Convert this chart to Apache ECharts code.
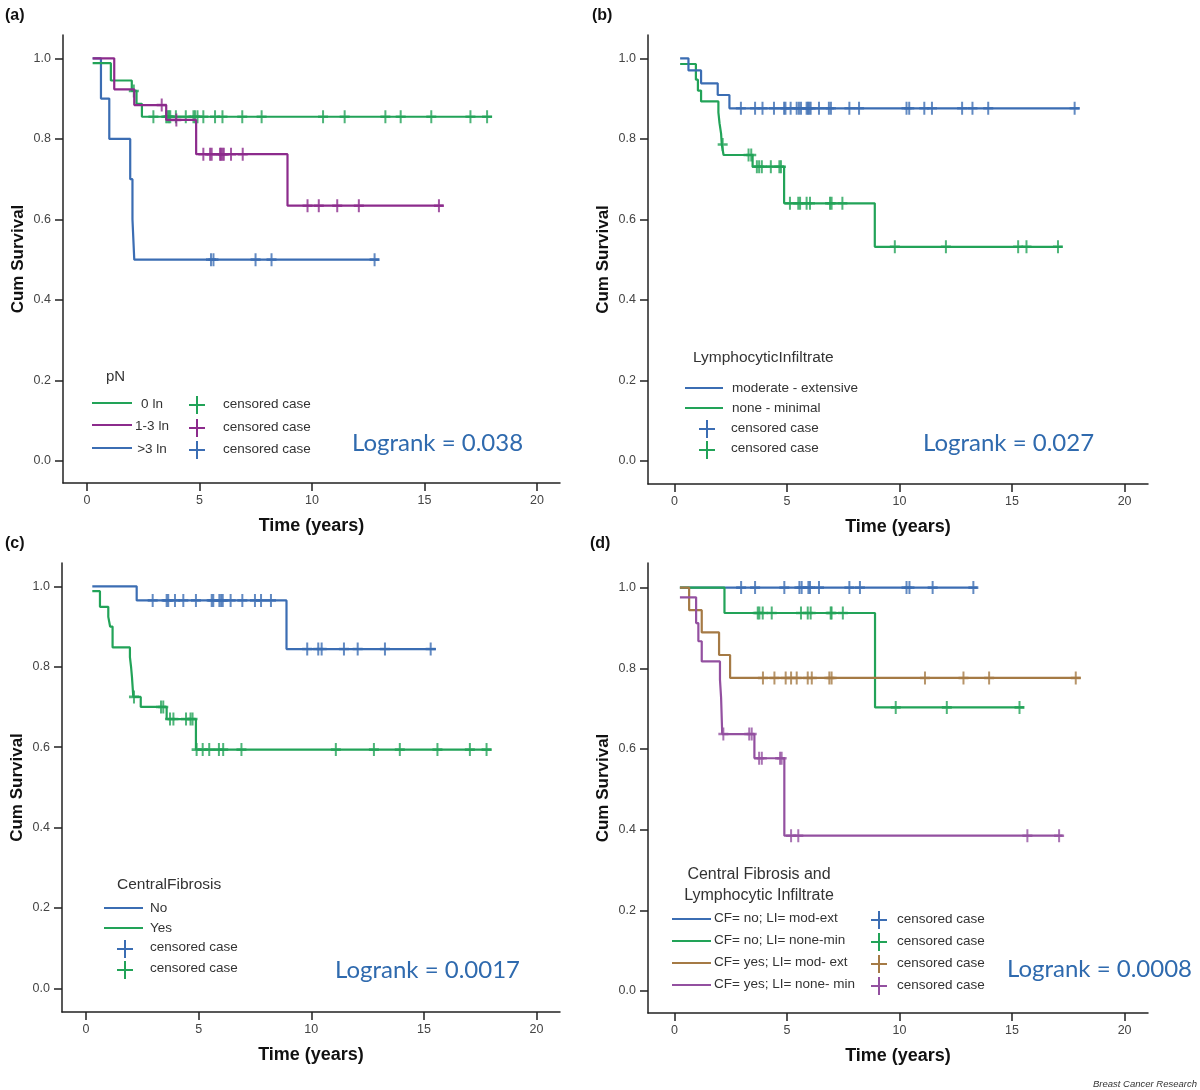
<!DOCTYPE html>
<html><head><meta charset="utf-8">
<script src="https://cdn.jsdelivr.net/npm/echarts@6/dist/echarts.min.js"></script>
<style>html,body{margin:0;padding:0;background:#fff}#c{width:1200px;height:1090px}</style>
</head><body><div id="c"></div>
<script>
// ================= DATA =================
const xTicks = [0, 5, 10, 15, 20];
const yTicks = [0, 0.2, 0.4, 0.6, 0.8, 1.0];

// (a) pN
const aTitle = 'pN';
const aNames = ['0 ln', '1-3 ln', '>3 ln'];
const aLogrank = 'Logrank = 0.038';
const a0T = [0.25, 1.06, 1.99, 2.20, 2.44, 18.0];
const a0S = [0.988, 0.945, 0.919, 0.887, 0.855, 0.855];
const a0C = [2.08, 2.95, 3.52, 3.58, 3.64, 3.70, 3.95, 4.39, 4.73, 4.80, 4.91, 5.17, 5.69, 6.02, 6.90, 7.76, 10.49, 11.45, 13.26, 13.94, 15.30, 17.04, 17.78];
const a1T = [0.25, 1.21, 2.10, 3.52, 4.85, 8.91, 15.84];
const a1S = [1.0, 0.923, 0.884, 0.847, 0.762, 0.634, 0.634];
const a1C = [3.32, 3.97, 5.17, 5.47, 5.54, 5.91, 5.96, 6.02, 6.08, 6.40, 6.92, 9.80, 10.30, 11.12, 12.08, 15.64];
const a2T = [0.25, 0.62, 0.99, 1.92, 2.02, 2.10, 12.98];
const a2S = [1.0, 0.9, 0.8, 0.7, 0.6, 0.5, 0.5];
const a2C = [5.51, 5.62, 7.49, 8.20, 12.78];

// (b) Lymphocytic infiltrate
const bTitle = 'LymphocyticInfiltrate';
const bNames = ['moderate - extensive', 'none - minimal'];
const bLogrank = 'Logrank = 0.027';
const b0T = [0.25, 0.62, 1.18, 1.92, 2.44, 18.0];
const b0S = [1.0, 0.970, 0.938, 0.909, 0.876, 0.876];
const b0C = [2.95, 3.58, 3.91, 4.42, 4.87, 4.93, 5.16, 5.43, 5.53, 5.62, 5.87, 5.93, 5.99, 6.05, 6.42, 6.86, 6.95, 7.77, 8.20, 10.31, 10.43, 11.10, 11.44, 12.78, 13.24, 13.94, 17.78];
const b1T = [0.25, 0.95, 1.04, 1.18, 1.95, 2.00, 2.07, 2.10, 2.18, 3.47, 4.87, 8.90, 17.23];
const b1S = [0.986, 0.947, 0.920, 0.893, 0.866, 0.839, 0.813, 0.786, 0.760, 0.731, 0.640, 0.532, 0.532];
const b1C = [2.14, 3.29, 3.41, 3.66, 3.76, 3.88, 4.28, 4.66, 4.73, 5.13, 5.50, 5.58, 5.87, 6.02, 6.91, 6.98, 7.46, 9.79, 12.06, 15.27, 15.64, 17.04];

// (c) Central fibrosis
const cTitle = 'CentralFibrosis';
const cNames = ['No', 'Yes'];
const cLogrank = 'Logrank = 0.0017';
const c0T = [0.28, 2.25, 8.90, 15.53];
const c0S = [1.0, 0.965, 0.844, 0.844];
const c0C = [2.96, 3.58, 3.65, 3.95, 4.32, 4.88, 5.58, 5.65, 5.92, 6.00, 6.07, 6.42, 6.94, 7.50, 7.77, 8.21, 9.82, 10.31, 10.46, 11.45, 12.06, 13.27, 15.30];
const c1T = [0.28, 0.62, 0.99, 1.07, 1.18, 1.95, 2.00, 2.04, 2.10, 2.43, 3.58, 4.88, 18.0];
const c1S = [0.988, 0.949, 0.924, 0.900, 0.848, 0.824, 0.800, 0.775, 0.725, 0.700, 0.670, 0.594, 0.594];
const c1C = [2.13, 3.33, 3.43, 3.73, 3.88, 4.44, 4.64, 4.73, 4.91, 5.18, 5.47, 5.90, 6.09, 6.90, 11.09, 12.78, 13.93, 15.60, 17.04, 17.78];

// (d) Central fibrosis and lymphocytic infiltrate
const dTitle = ['Central Fibrosis and', 'Lymphocytic Infiltrate'];
const dNames = ['CF= no; LI= mod-ext', 'CF= no; LI= none-min', 'CF= yes; LI= mod- ext', 'CF= yes; LI= none- min'];
const dLogrank = 'Logrank = 0.0008';
const d0T = [0.24, 13.46];
const d0S = [1.0, 1.0];
const d0C = [2.96, 3.58, 4.88, 5.55, 5.65, 5.95, 6.02, 6.42, 7.77, 8.24, 10.31, 10.44, 11.47, 13.28];
const d1T = [0.24, 2.22, 8.91, 15.53];
const d1S = [1.0, 0.937, 0.703, 0.703];
const d1C = [3.70, 3.77, 3.92, 4.32, 5.62, 5.92, 6.05, 6.94, 6.98, 7.48, 9.83, 12.10, 15.33];
const d2T = [0.24, 0.65, 1.21, 1.98, 2.47, 18.05];
const d2S = [1.0, 0.944, 0.889, 0.833, 0.776, 0.776];
const d2C = [3.93, 4.44, 4.94, 5.18, 5.43, 5.92, 6.10, 6.88, 6.98, 11.13, 12.84, 13.98, 17.83];
const d3T = [0.24, 0.96, 1.06, 1.21, 2.02, 2.07, 2.12, 3.55, 4.88, 17.25];
const d3S = [0.976, 0.912, 0.867, 0.817, 0.772, 0.727, 0.637, 0.577, 0.385, 0.385];
const d3C = [2.17, 3.32, 3.43, 3.76, 3.88, 4.69, 4.76, 5.18, 5.50, 15.68, 17.09];

// ================= STYLE =================
const GREEN = '#22a358', PURPLE = '#8c2b8c', BLUE = '#3b6db3', BROWN = '#a57a45', PURPLE2 = '#9350a0';
const LOGRANK_COLOR = '#2f6aae';
const FONT = 'Liberation Sans, Arial, sans-serif';
const PLUS = 'path://M4,0 H6 V4 H10 V6 H6 V10 H4 V6 H0 V4 H4 Z';

// grid boxes and axis ranges (layout)
const panels = [
  {grid: {left: 63, top: 35, width: 497, height: 448}, x: [-1.067, 21.02], y: [-0.0547, 1.058]},
  {grid: {left: 648, top: 35, width: 500, height: 449}, x: [-1.178, 21.04], y: [-0.057, 1.058]},
  {grid: {left: 62, top: 563, width: 498, height: 449}, x: [-1.065, 21.04], y: [-0.0585, 1.058]},
  {grid: {left: 648, top: 563, width: 500, height: 450}, x: [-1.178, 21.04], y: [-0.0545, 1.061]}
];

function valAt(T, S, t) { let v = S[0]; for (let i = 0; i < T.length; i++) if (T[i] <= t + 1e-9) v = S[i]; return v; }

const curves = [
  [0, a2T, a2S, a2C, BLUE], [0, a0T, a0S, a0C, GREEN], [0, a1T, a1S, a1C, PURPLE],
  [1, b1T, b1S, b1C, GREEN], [1, b0T, b0S, b0C, BLUE],
  [2, c0T, c0S, c0C, BLUE], [2, c1T, c1S, c1C, GREEN],
  [3, d0T, d0S, d0C, BLUE], [3, d1T, d1S, d1C, GREEN], [3, d2T, d2S, d2C, BROWN], [3, d3T, d3S, d3C, PURPLE2]
];

const series = [];
curves.forEach(([p, T, S, C, col], k) => {
  series.push({
    type: 'line', xAxisIndex: p, yAxisIndex: p, step: 'end', symbol: 'none',
    data: T.map((t, i) => [t, S[i]]),
    lineStyle: {color: col, width: 2.2}, itemStyle: {color: col},
    z: 2 + k * 0.01, animation: false, silent: true
  });
  series.push({
    type: 'scatter', xAxisIndex: p, yAxisIndex: p, symbol: PLUS, symbolSize: [10, 13],
    data: C.map(t => [t, valAt(T, S, t)]),
    itemStyle: {color: col}, z: 2 + k * 0.01 + 0.005, animation: false, silent: true
  });
});

const grids = panels.map(p => p.grid);
const xAxes = panels.map((p, i) => ({
  type: 'value', gridIndex: i, min: p.x[0], max: p.x[1],
  name: 'Time (years)', nameLocation: 'middle', nameGap: 34,
  nameTextStyle: {fontFamily: FONT, fontWeight: 'bold', fontSize: 18, color: '#111'},
  axisLine: {show: true, onZero: false, lineStyle: {color: '#222', width: 1.5}},
  axisTick: {show: true, length: 8, customValues: xTicks, lineStyle: {color: '#222', width: 1.5}},
  axisLabel: {customValues: xTicks, margin: 11, fontFamily: FONT, fontSize: 12.5, color: '#444'},
  splitLine: {show: false}
}));
const yAxes = panels.map((p, i) => ({
  type: 'value', gridIndex: i, min: p.y[0], max: p.y[1],
  name: 'Cum Survival', nameLocation: 'middle', nameGap: 36, nameRotate: 90,
  nameTextStyle: {fontFamily: FONT, fontWeight: 'bold', fontSize: 17, color: '#111'},
  axisLine: {show: true, onZero: false, lineStyle: {color: '#222', width: 1.5}},
  axisTick: {show: true, length: 8, customValues: yTicks, lineStyle: {color: '#222', width: 1.5}},
  axisLabel: {customValues: yTicks, margin: 12, fontFamily: FONT, fontSize: 12.5, color: '#444',
    formatter: v => v.toFixed(1)},
  splitLine: {show: false}
}));

// ---------- legends / annotations (graphic) ----------
const G = [];
function txt(x, y, text, o) {
  o = o || {};
  G.push({type: 'text', x: x, y: y, silent: true, style: {
    text: text, fill: o.fill || '#333', fontFamily: o.family || FONT, fontSize: o.size || 13.5,
    fontWeight: o.weight || 'normal', fontStyle: o.style || 'normal',
    align: o.align || 'left', verticalAlign: 'middle', textAlign: o.align || 'left', textVerticalAlign: 'middle'
  }});
}
function lline(x1, x2, y, col) {
  G.push({type: 'line', silent: true, shape: {x1: x1, y1: y, x2: x2, y2: y}, style: {stroke: col, lineWidth: 2}});
}
function lplus(cx, cy, col) {
  G.push({type: 'line', silent: true, shape: {x1: cx - 8, y1: cy, x2: cx + 8, y2: cy}, style: {stroke: col, lineWidth: 2}});
  G.push({type: 'line', silent: true, shape: {x1: cx, y1: cy - 9, x2: cx, y2: cy + 9}, style: {stroke: col, lineWidth: 2}});
}
const LR = {fill: LOGRANK_COLOR, family: 'Lato, Open Sans, sans-serif', size: 24};
const PL = {size: 16, weight: 'bold', fill: '#111'};

// (a)
txt(5, 16, '(a)', PL);
txt(106, 377, aTitle, {size: 15});
[[GREEN, 403, 405], [PURPLE, 425, 428], [BLUE, 448, 450]].forEach(([col, y, yp], i) => {
  lline(92, 132, y, col); txt(152, y + 1, aNames[i], {align: 'center'});
  lplus(197, yp, col); txt(223, yp - 1, 'censored case');
});
txt(352, 443, aLogrank, LR);

// (b)
txt(592, 16, '(b)', PL);
txt(693, 358, bTitle, {size: 15.5});
lline(685, 723, 388, BLUE); txt(732, 388, bNames[0]);
lline(685, 723, 408, GREEN); txt(732, 408, bNames[1]);
lplus(707, 429, BLUE); txt(731, 428, 'censored case');
lplus(707, 450, GREEN); txt(731, 448, 'censored case');
txt(923, 443, bLogrank, LR);

// (c)
txt(5, 544, '(c)', PL);
txt(117, 885, cTitle, {size: 15.5});
lline(104, 143, 908, BLUE); txt(150, 908, cNames[0]);
lline(104, 143, 928, GREEN); txt(150, 928, cNames[1]);
lplus(125, 949, BLUE); txt(150, 947, 'censored case');
lplus(125, 970, GREEN); txt(150, 968, 'censored case');
txt(335, 970, cLogrank, LR);

// (d)
txt(590, 544, '(d)', PL);
txt(759, 875, dTitle[0], {size: 16, align: 'center'});
txt(759, 896, dTitle[1], {size: 16, align: 'center'});
[BLUE, GREEN, BROWN, PURPLE2].forEach((col, i) => {
  const y = 919 + i * 22;
  lline(672, 711, y, col); txt(714, y - 1, dNames[i]);
  lplus(879, y + 1, col); txt(897, y, 'censored case');
});
txt(1007, 969, dLogrank, LR);

txt(1197, 1084, 'Breast Cancer Research', {size: 9.5, style: 'italic', align: 'right', fill: '#333'});

const chart = echarts.init(document.getElementById('c'), null, {renderer: 'canvas'});
chart.setOption({
  backgroundColor: '#fff', animation: false,
  textStyle: {fontFamily: FONT},
  grid: grids, xAxis: xAxes, yAxis: yAxes, series: series, graphic: {elements: G}
});
</script></body></html>
